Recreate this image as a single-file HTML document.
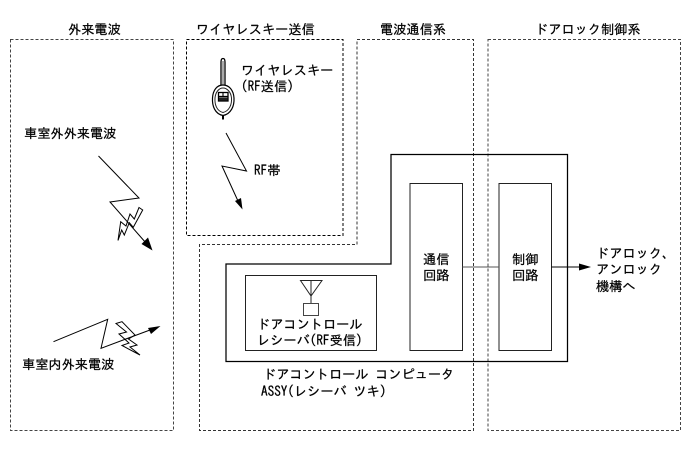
<!DOCTYPE html>
<html lang="ja">
<head>
<meta charset="utf-8">
<style>
html,body{margin:0;padding:0;background:#fff;width:690px;height:465px;overflow:hidden}
svg{display:block}
text{font-family:"IPAGothic","Noto Sans CJK JP",sans-serif;font-size:13.2px;fill:#000;stroke:#000;stroke-width:.25px}
</style>
</head>
<body>
<svg width="690" height="465" viewBox="0 0 690 465" xmlns="http://www.w3.org/2000/svg">
<rect width="690" height="465" fill="#fff"/>
<!-- dashed zones -->
<g fill="none" stroke-width="1" stroke-dasharray="3 2">
<rect x="10.5" y="39.5" width="163" height="391" stroke="#444"/>
<rect x="186.5" y="39.5" width="156.5" height="196" stroke="#000"/>
<path d="M357 39.5H473.5V430.5H199.5V244.5H357Z" stroke="#333"/>
<rect x="488" y="39.5" width="192.5" height="391" stroke="#444"/>
</g>
<!-- computer outline -->
<path d="M391 154.5H567.5V361.5H226V264H391Z" fill="none" stroke="#000" stroke-width="1.25"/>
<!-- inner boxes -->
<g fill="none" stroke="#222" stroke-width="1">
<rect x="245.5" y="275.5" width="131" height="75"/>
<rect x="410" y="183.5" width="52.5" height="167"/>
<rect x="499" y="183.5" width="52.5" height="167"/>
<path d="M462.5 267H499" stroke="#555"/>
<path d="M551.5 267H580" stroke="#000"/>
</g>
<path d="M579 263.5L591 267L579 270.5Z" fill="#000"/>
<!-- antenna -->
<g fill="none" stroke="#222" stroke-width="1">
<path d="M300.5 280.5H322L311 296Z"/>
<path d="M311 280.5V303.5"/>
<rect x="303.5" y="303.5" width="15" height="12" stroke="#444"/>
</g>
<!-- bolt 1 -->
<g fill="none" stroke="#000" stroke-width="1">
<path d="M98.5 156L139 198L110 202L146 243"/>
<path d="M118 240.5L120.7 221.7L126 226L130 214L134.3 219L139 207.5L142.7 210L133.3 227.3L129.3 222.7L124.3 235L121.7 230Z"/>
</g>
<path d="M152.5 250.5L141.5 244L148 237.5Z" fill="#000"/>
<!-- bolt 2 -->
<g fill="none" stroke="#000" stroke-width="1">
<path d="M53.5 341.7L107.7 319.3L101 348.3L150 330"/>
<path d="M116 323.5L122 321.7L135 335L128.5 339L137 345L130 347L140 355L122 345.5L129 343L119 334L126.5 332Z"/>
</g>
<path d="M160.5 326L148 328L151 334Z" fill="#000"/>
<!-- RF bolt -->
<path d="M226 133L246.5 171L222 166L238 201" fill="none" stroke="#000" stroke-width="1"/>
<path d="M242.5 209.5L235 201L241 198Z" fill="#000"/>
<!-- key -->
<g fill="none" stroke="#000">
<path d="M221 85V62Q221 58.5 223 58.5Q225 58.5 225 62V85" stroke-width="1.3"/>
<path d="M223 61V85" stroke="#555" stroke-width="1"/>
<path d="M223 85C217 85 213 90 212.5 98C212 106 215 114 223 115.5C231 114 234.5 106 234 98C233.5 90 229 85 223 85Z" stroke-width="1.2"/>
<path d="M223 88C219 88 215.5 92 215 98C214.5 105 217 111 223 112.5C229 111 232 105 231.5 98C231 92 227 88 223 88Z" stroke="#222" stroke-width="1"/>
<path d="M223 115.5V119.5" stroke-width="2"/>
<rect x="218.5" y="92.5" width="9.5" height="8.5" stroke-width="1.3"/>
<path d="M218.5 96.5H228" stroke-width="1.3"/>
<path d="M223 92.5V96" stroke-width="1.1"/>
</g>
<rect x="219" y="97.5" width="8.5" height="3" fill="#222"/>
<!-- labels -->
<text x="68" y="34">外来電波</text>
<text x="196" y="34">ワイヤレスキー送信</text>
<text x="380" y="34">電波通信系</text>
<text x="535" y="34">ドアロック制御系</text>
<text x="241" y="75">ワイヤレスキー</text>
<text x="241" y="91">(RF送信)</text>
<text x="254" y="175">RF帯</text>
<text x="24" y="138">車室外外来電波</text>
<text x="22" y="369">車室内外来電波</text>
<text x="257" y="329">ドアコントロール</text>
<text x="257" y="345">レシーバ(RF受信)</text>
<text x="263" y="379">ドアコントロール コンピュータ</text>
<text x="261" y="396">ASSY(レシーバ ツキ)</text>
<text x="423" y="264">通信</text>
<text x="423" y="280">回路</text>
<text x="512" y="264">制御</text>
<text x="512" y="280">回路</text>
<text x="596" y="258">ドアロック、</text>
<text x="596" y="274">アンロック</text>
<text x="596" y="291">機構へ</text>
</svg>
</body>
</html>
